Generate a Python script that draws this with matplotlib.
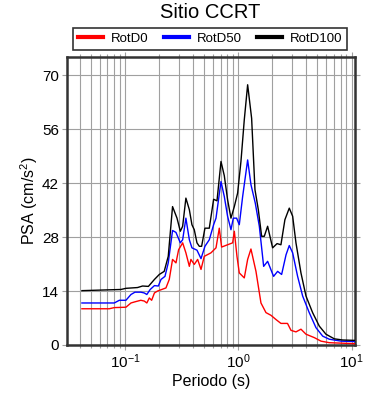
import numpy as np
import matplotlib
matplotlib.use("Agg")
import matplotlib.pyplot as plt
from matplotlib.lines import Line2D
from matplotlib.ticker import LogLocator, MultipleLocator

plt.rcParams['font.family'] = ['Liberation Sans', 'DejaVu Sans']
plt.rcParams['mathtext.default'] = 'regular'

# periodo (s) y PSA (cm/s2) de cada componente
per_d0 = [0.0417, 0.0727, 0.0805, 0.102, 0.113, 0.1225, 0.138, 0.148, 0.156, 0.164,
          0.172, 0.182, 0.194, 0.230, 0.246, 0.263, 0.282, 0.2975, 0.323, 0.345,
          0.370, 0.382, 0.409, 0.438, 0.469, 0.501, 0.574, 0.636, 0.680, 0.713,
          0.805, 0.892, 0.923, 0.974, 1.021, 1.13, 1.21, 1.294, 1.433, 1.586,
          1.756, 1.944, 2.153, 2.38, 2.72, 2.92, 3.23, 3.575, 3.96, 4.70,
          5.37, 6.36, 10.6]
psa_d0 = [9.4, 9.4, 9.7, 9.8, 10.9, 11.2, 11.6, 11.4, 10.9, 12.2,
          11.6, 13.5, 14.0, 14.8, 17.0, 22.2, 21.3, 24.7, 26.5, 23.9,
          20.4, 22.2, 20.9, 22.2, 19.6, 23.0, 23.9, 25.2, 30.3, 25.4,
          26.0, 26.5, 29.5, 23.0, 18.7, 17.4, 22.2, 24.9, 19.1, 10.9,
          8.4, 7.7, 6.6, 5.6, 5.6, 3.8, 3.4, 4.1, 2.8, 1.9,
          1.0, 0.6, 0.35]

per_d50 = [0.0417, 0.0805, 0.0892, 0.102, 0.113, 0.1225, 0.138, 0.148, 0.156, 0.167,
           0.182, 0.197, 0.208, 0.2255, 0.241, 0.263, 0.282, 0.308, 0.323, 0.345,
           0.370, 0.390, 0.432, 0.469, 0.508, 0.555, 0.606, 0.636, 0.704, 0.753,
           0.805, 0.862, 0.904, 0.967, 1.021, 1.093, 1.21, 1.294, 1.413, 1.534,
           1.675, 1.816, 2.05, 2.225, 2.414, 2.64, 2.82, 3.02, 3.34, 3.70,
           4.23, 4.85, 5.56, 6.36, 8.07, 10.6]
psa_d50 = [10.9, 10.9, 11.6, 11.6, 13.1, 13.7, 13.7, 13.5, 13.1, 14.4,
           15.4, 15.3, 17.0, 17.8, 21.3, 29.7, 29.2, 26.5, 27.3, 32.9,
           27.3, 25.2, 24.6, 22.4, 25.6, 27.3, 31.2, 32.9, 42.4, 38.5,
           33.4, 29.9, 32.9, 32.9, 31.2, 38.5, 48.0, 41.6, 36.8, 30.8,
           20.4, 21.7, 17.8, 19.1, 18.3, 23.4, 25.8, 23.9, 17.8, 12.7,
           8.4, 4.5, 2.3, 1.5, 1.0, 0.9]

per_d100 = [0.0417, 0.0921, 0.102, 0.129, 0.143, 0.161, 0.182, 0.201, 0.222, 0.241,
            0.263, 0.288, 0.308, 0.323, 0.345, 0.370, 0.390, 0.409, 0.432, 0.453,
            0.475, 0.508, 0.555, 0.606, 0.649, 0.704, 0.753, 0.805, 0.862, 0.923,
            0.987, 1.056, 1.13, 1.21, 1.312, 1.404, 1.503, 1.608, 1.697, 1.816,
            2.01, 2.20, 2.38, 2.58, 2.82, 3.02, 3.23, 3.575, 3.96, 4.53,
            5.19, 5.94, 7.04, 8.34, 10.6]
psa_d100 = [14.1, 14.4, 14.7, 14.9, 15.3, 15.2, 17.0, 18.3, 19.1, 23.0,
            35.9, 32.9, 29.5, 30.8, 38.1, 35.1, 31.2, 29.9, 26.5, 25.6,
            25.6, 30.3, 30.3, 37.8, 37.4, 47.6, 43.9, 37.7, 32.9, 35.9,
            39.4, 47.6, 58.4, 67.5, 58.8, 40.3, 35.1, 28.2, 28.2, 30.8,
            25.2, 26.3, 26.0, 32.5, 35.5, 33.4, 26.5, 18.7, 12.7, 8.4,
            4.9, 2.8, 1.6, 1.3, 1.2]

y_ticks = [0, 14, 28, 42, 56, 70]

# figura
fig = plt.figure(figsize=(3.9, 4.0), dpi=100)
ax = fig.add_axes([0.171, 0.1375, 0.739, 0.72])

ax.plot(per_d0, psa_d0, color='#ff0000', lw=1.0, zorder=3)
ax.plot(per_d50, psa_d50, color='#0000ff', lw=1.0, zorder=3)
ax.plot(per_d100, psa_d100, color='#000000', lw=1.0, zorder=3)

ax.set_xscale('log')
ax.set_xlim(0.0306, 10.7)
ax.set_ylim(0, 74.7)
ax.set_yticks(y_ticks)
ax.xaxis.set_minor_locator(LogLocator(base=10, subs=np.arange(2, 10)))

# rejilla
ax.grid(which='major', color='#a0a0a0', lw=0.8)
ax.grid(which='minor', axis='x', color='#a0a0a0', lw=0.8)
ax.set_axisbelow(True)

for side in ax.spines.values():
    side.set_color('#333333')
    side.set_linewidth(1.8)

ax.tick_params(which='both', direction='out', top=True, right=True,
               color='#a0a0a0', labelsize=11, pad=2)
ax.tick_params(which='major', length=3.5, width=0.8)
ax.tick_params(which='minor', length=2.5, width=0.8)

ax.set_xlabel('Periodo (s)', fontsize=11.5, labelpad=2)
ax.set_ylabel('PSA (cm/s$^2$)', fontsize=11.5, labelpad=1.5)

fig.text(0.54, 0.968, 'Sitio CCRT', fontsize=14.5, ha='center', va='center')

# leyenda arriba del grafico
handles = [Line2D([], [], color='#ff0000', lw=3),
           Line2D([], [], color='#0000ff', lw=3),
           Line2D([], [], color='#000000', lw=3)]
leg = fig.legend(handles, ['RotD0', 'RotD50', 'RotD100'], loc='center',
                 bbox_to_anchor=(0.539, 0.9025), ncol=3, fontsize=9.5,
                 frameon=True, fancybox=False, edgecolor='black',
                 handlelength=1.9, columnspacing=1.2, handletextpad=0.55,
                 borderpad=0.4, borderaxespad=0)
leg.get_frame().set_linewidth(1.2)

fig.savefig('out.png', dpi=100)
